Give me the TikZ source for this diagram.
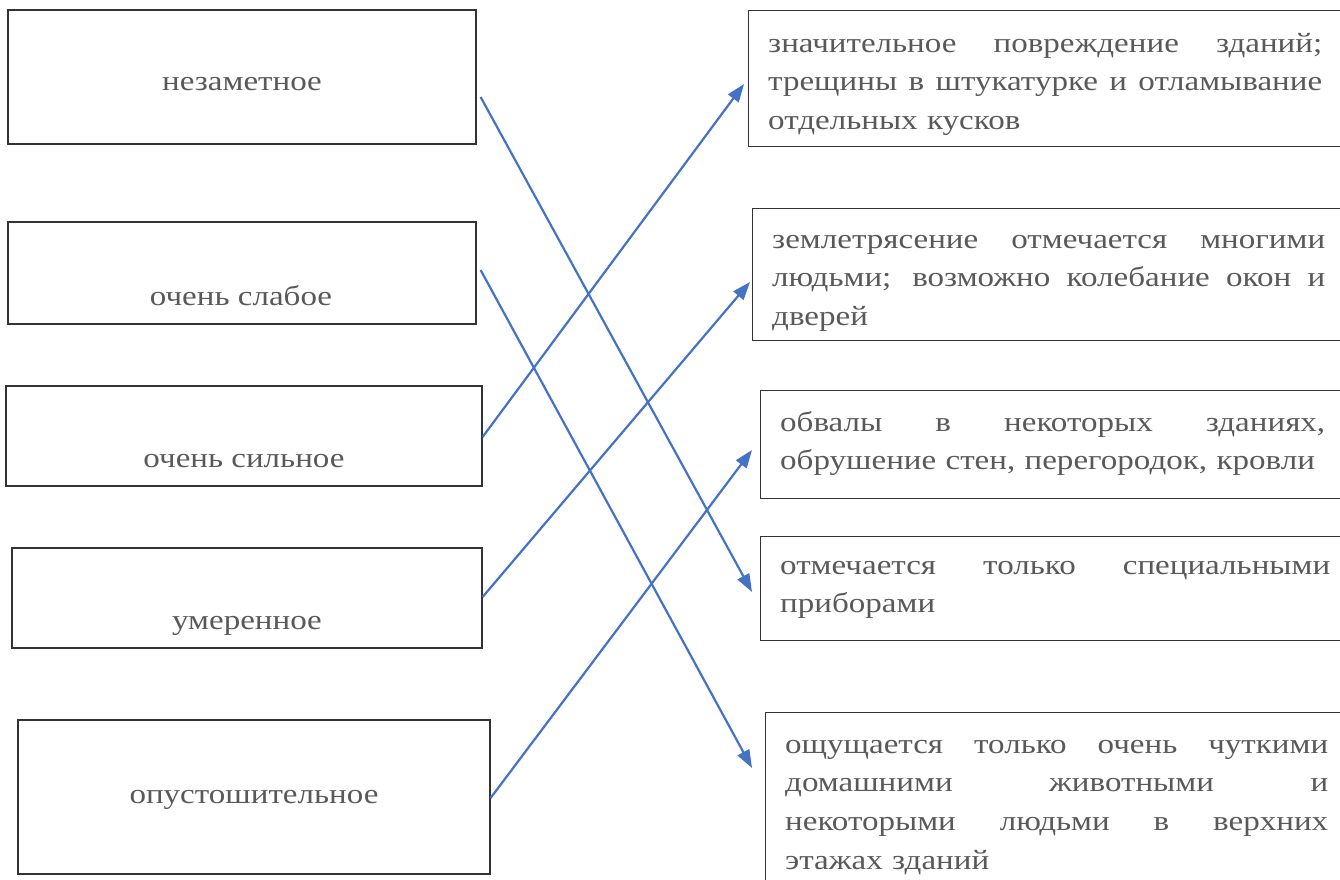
\documentclass[tikz,border=0pt]{standalone}
\usepackage{fontspec}
\setmainfont[FakeStretch=1.18]{Liberation Serif}
\usetikzlibrary{arrows.meta,positioning}

\definecolor{txtgray}{HTML}{595959}
\definecolor{arrowblue}{HTML}{4472C4}

% one justified line of fixed width
\newcommand{\jl}[2]{\makebox[#1][s]{\spaceskip=0.25em plus 2em\relax #2}}

\begin{document}
\begin{tikzpicture}[x=1pt, y=-1pt, >={Triangle[length=18pt, width=13pt]},
    sbox/.style={draw=black!80, line width=1.2pt, rectangle, inner sep=0pt},
    lbl/.style={text=txtgray, font=\fontsize{28}{38.7}\selectfont, inner sep=0pt, anchor=base},
    para/.style={text=txtgray, font=\fontsize{28}{38.7}\selectfont, inner sep=0pt, anchor=base west, align=left},
    link/.style={->, draw=arrowblue, fill=arrowblue, line width=2.2pt}]
    \useasboundingbox (0,0) rectangle (1340,879);

    % left column
    \node[sbox, minimum width=468pt, minimum height=134pt] (quiet)       at (242,77)  {};
    \node[sbox, minimum width=468pt, minimum height=102pt] (veryweak)    at (242,273) {};
    \node[sbox, minimum width=476pt, minimum height=100pt] (verystrong)  at (244,436) {};
    \node[sbox, minimum width=470pt, minimum height=100pt] (moderate)    at (247,598) {};
    \node[sbox, minimum width=472pt, minimum height=154pt] (devastating) at (254,797) {};

    \node[lbl] (quietlbl)       at (242,90)  {незаметное};
    \node[lbl] (veryweaklbl)    at (241,305) {очень слабое};
    \node[lbl] (verystronglbl)  at (244,467) {очень сильное};
    \node[lbl] (moderatelbl)    at (247,629) {умеренное};
    \node[lbl] (devastatinglbl) at (254,803) {опустошительное};

    % right column
    \node[sbox, anchor=north west, minimum width=600pt, minimum height=136pt] (damage)   at (748,10)  {};
    \node[sbox, anchor=north west, minimum width=600pt, minimum height=132pt] (felt)     at (752,208) {};
    \node[sbox, anchor=north west, minimum width=600pt, minimum height=108pt] (collapse) at (760,390) {};
    \node[sbox, anchor=north west, minimum width=600pt, minimum height=104pt] (instr)    at (760,536) {};
    \node[sbox, anchor=north west, minimum width=600pt, minimum height=200pt] (tremor)   at (765,712) {};

    \node[para, text width=554pt] (damagetxt) at (768,52)
        {\jl{554pt}{значительное повреждение зданий;}\\
         \jl{554pt}{трещины в штукатурке и отламывание}\\
         отдельных кусков};
    \node[para, text width=553pt] (felttxt) at (772,248)
        {\jl{553pt}{землетрясение отмечается многими}\\
         \jl{553pt}{людьми; возможно колебание окон и}\\
         дверей};
    \node[para, text width=545pt] (collapsetxt) at (780,431)
        {\jl{545pt}{обвалы в некоторых зданиях,}\\
         обрушение стен, перегородок, кровли};
    \node[para, text width=550pt] (instrtxt) at (780,574)
        {\jl{550pt}{отмечается только специальными}\\
         приборами};
    \node[para, text width=543pt] (tremortxt) at (785,753)
        {\jl{543pt}{ощущается только очень чуткими}\\
         \jl{543pt}{домашними животными и}\\
         \jl{543pt}{некоторыми людьми в верхних}\\
         этажах зданий};

    % connectors
    \draw[link] ([shift={(4,20)}]quiet.east)      -- ([shift={(-8,56)}]instr.north west);
    \draw[link] ([shift={(4,-3)}]veryweak.east)   -- ([shift={(-13,56)}]tremor.north west);
    \draw[link] ([shift={(0,1)}]verystrong.east)  -- ([shift={(-4,74)}]damage.north west);
    \draw[link] ([shift={(0,-1)}]moderate.east)   -- ([shift={(-2,74)}]felt.north west);
    \draw[link] ([shift={(0,1)}]devastating.east) -- ([shift={(-8,60)}]collapse.north west);
\end{tikzpicture}
\end{document}
